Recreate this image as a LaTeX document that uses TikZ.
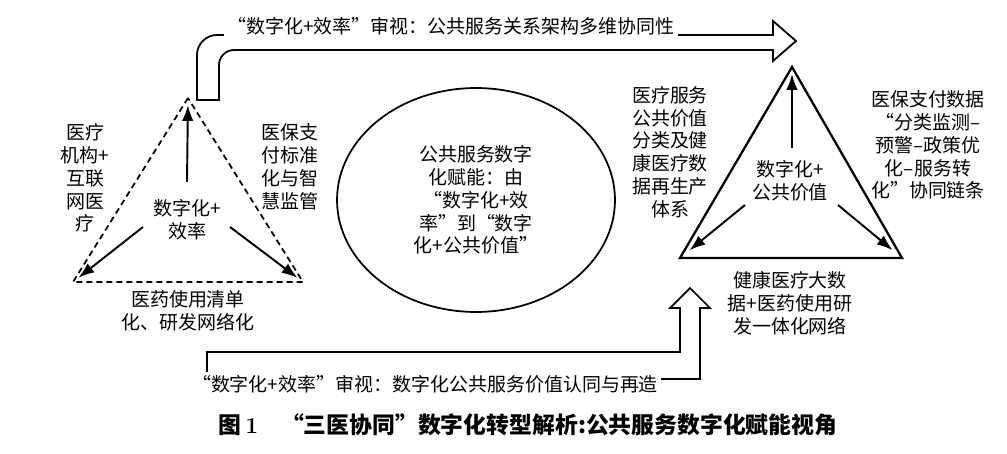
\documentclass[tikz,border=0pt]{standalone}
\usepackage{fontspec}
\usepackage{tikz}
\usetikzlibrary{arrows.meta,shapes.geometric,positioning}
\newfontfamily\cjk{Noto Sans CJK SC}
\tikzset{
txt/.style = {font=\cjk\fontsize{10.8pt}{13pt}\selectfont, align=center, inner sep=1pt},
tag/.style = {txt, fill=white, inner sep=2pt},
dtri/.style = {draw, line width=1pt, dash pattern=on 3.4pt off 2.3pt},
stri/.style = {draw, line width=1.3pt, line join=miter},
ptr/.style = {->, line width=1.1pt, shorten >=4pt},
hollow/.style = {draw, line width=1pt, line join=miter},
}

\begin{document}
\begin{tikzpicture}[x=0.02cm, y=0.02cm, >={Latex[length=9pt,width=6.5pt]}]
    \useasboundingbox (0,0) rectangle (1007,-453);
    % hollow arrows
    \draw [hollow] (197,-100) -- (197,-55) arc[start angle=180, end angle=90, radius=20]
        -- (773,-35) -- (773,-21) -- (796,-41) -- (773,-61) -- (773,-50)
        -- (234,-50) arc[start angle=90, end angle=180, radius=15] -- (219,-100) -- cycle;
    \draw [hollow] (207,-379) -- (207,-352) -- (680,-352) -- (680,-308) -- (670,-308)
        -- (690,-288) -- (710,-308) -- (700,-308) -- (700,-379) -- cycle;
    \node [tag] (topcap) at (451,-26) {“数字化+效率”审视：公共服务关系架构多维协同性};
    \node [tag] (botcap) at (425,-384) {“数字化+效率”审视：数字化公共服务价值认同与再造};
    % left triangle
    \coordinate (lA) at (188,-98);
    \coordinate (lB) at (73,-282);
    \coordinate (lC) at (303,-282);
    \draw [dtri] (lA) -- (lB) -- (lC) -- cycle;
    \node [txt] (lc) at (187,-220) {数字化+\\效率};
    \coordinate (l0) at (187,-182);
    \coordinate (l1) at (143,-227);
    \coordinate (l2) at (230,-227);
    \draw [ptr] (l0) -- (lA);
    \draw [ptr] (l1) -- (lB);
    \draw [ptr] (l2) -- (lC);
    \node [txt] (lL) at (85,-178) {医疗\\机构+\\互联\\网医\\疗};
    \node [txt] (lR) at (290,-167) {医保支\\付标准\\化与智\\慧监管};
    \node [txt] (lD) at (188,-311) {医药使用清单\\化、研发网络化};
    % ellipse
    \node [txt, ellipse, draw, line width=1pt, minimum width=5.56cm, minimum height=4.48cm]
        (ell) at (476,-200) {公共服务数字\\化赋能：由\\“数字化+效\\率”到“数字\\化+公共价值”};
    % right triangle
    \coordinate (rA) at (792,-67);
    \coordinate (rB) at (680,-258);
    \coordinate (rC) at (902,-258);
    \draw [stri] (rA) -- (rB) -- (rC) -- cycle;
    \node [txt] (rc) at (790,-181) {数字化+\\公共价值};
    \coordinate (r0) at (792,-148);
    \coordinate (r1) at (745,-205);
    \coordinate (r2) at (838,-205);
    \draw [ptr] (r0) -- (rA);
    \draw [ptr, shorten >=7pt] (r1) -- (rB);
    \draw [ptr, shorten >=7pt] (r2) -- (rC);
    \node [txt] (rL) at (670,-152) {医疗服务\\公共价值\\分类及健\\康医疗数\\据再生产\\体系};
    \node [txt] (rR) at (928,-145) {医保支付数据\\“分类监测–\\预警–政策优\\化–服务转\\化”协同链条};
    \node [txt] (rD) at (790,-303) {健康医疗大数\\据+医药使用研\\发一体化网络};
    % caption
    \node [font=\cjk\bfseries\fontsize{13pt}{15pt}\selectfont] (cap) at (528,-425)
        {图\,{\rmfamily\bfseries 1}\quad “三医协同”数字化转型解析:公共服务数字化赋能视角};
\end{tikzpicture}
\end{document}
